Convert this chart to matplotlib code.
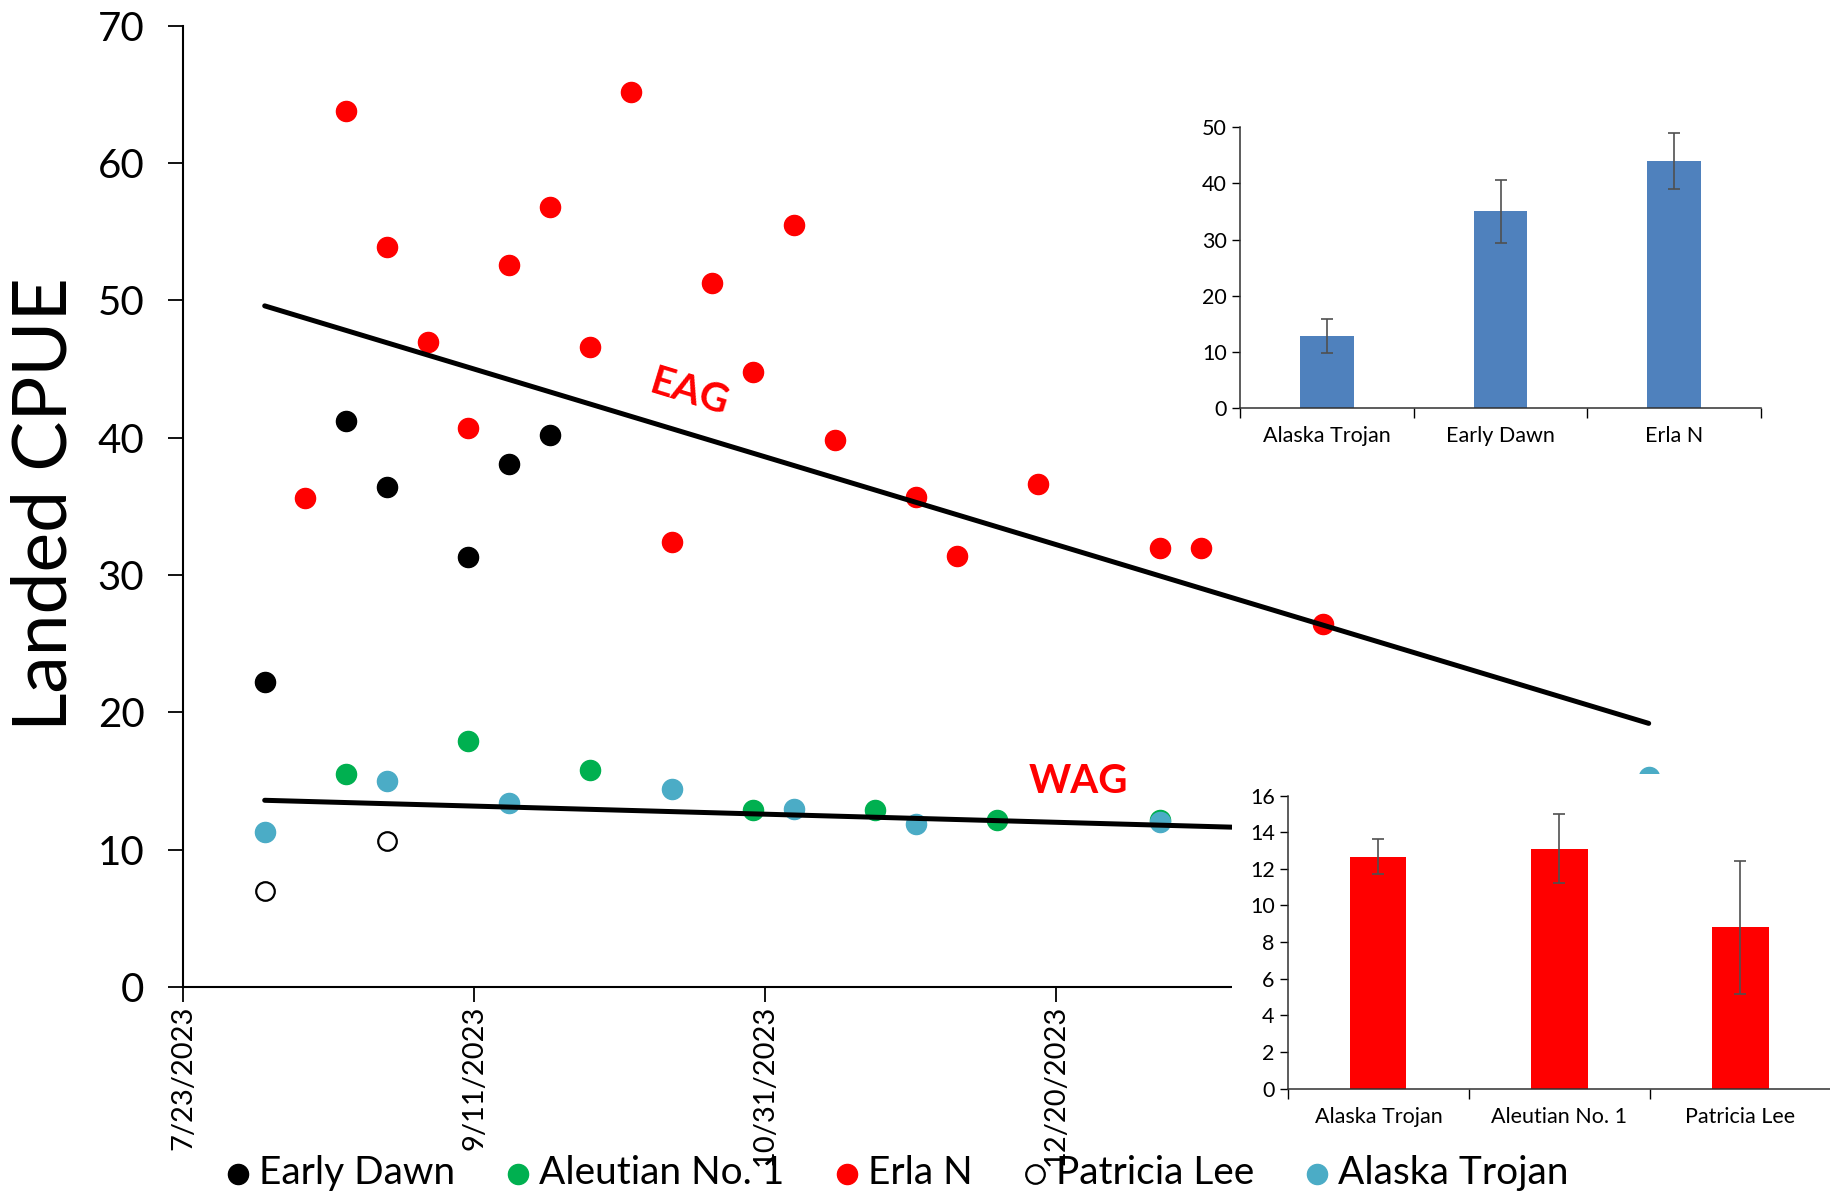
import matplotlib
matplotlib.use('Agg')
import matplotlib.pyplot as plt
import numpy as np
import pandas as pd
from matplotlib.patches import Rectangle

plt.rcParams['font.family'] = ['Lato', 'DejaVu Sans']

# scatter data
ed_dates = ['2023-08-06', '2023-08-20', '2023-08-27', '2023-09-10', '2023-09-17', '2023-09-24']
ed_cpue = [22.2, 41.2, 36.4, 31.3, 38.1, 40.2]

erla_dates = ['2023-08-13', '2023-08-20', '2023-08-27', '2023-09-03', '2023-09-10', '2023-09-17',
              '2023-09-24', '2023-10-01', '2023-10-08', '2023-10-15', '2023-10-22', '2023-10-29',
              '2023-11-05', '2023-11-12', '2023-11-26', '2023-12-03', '2023-12-17', '2024-01-07',
              '2024-01-14', '2024-02-04']
erla_cpue = [35.6, 63.8, 53.9, 47.0, 40.7, 52.6, 56.8, 46.6, 65.2, 32.4, 51.3, 44.8,
             55.5, 39.8, 35.7, 31.4, 36.6, 32.0, 32.0, 26.4]

aleut_dates = ['2023-08-20', '2023-09-10', '2023-10-01', '2023-10-29', '2023-11-19', '2023-12-10', '2024-01-07']
aleut_cpue = [15.5, 17.9, 15.8, 12.9, 12.9, 12.2, 12.2]

pl_dates = ['2023-08-06', '2023-08-27']
pl_cpue = [7.0, 10.6]

at_dates = ['2023-08-06', '2023-08-27', '2023-09-17', '2023-10-15', '2023-11-05', '2023-11-26',
            '2024-01-07', '2024-03-31']
at_cpue = [11.3, 15.0, 13.4, 14.4, 13.0, 11.9, 12.0, 15.3]

# trend lines (end points)
eag_dates = ['2023-08-06', '2024-03-31']
eag_vals = [49.6, 19.2]
wag_dates = ['2023-08-06', '2024-03-31']
wag_vals = [13.6, 10.8]

xtick_dates = ['2023-07-23', '2023-09-11', '2023-10-31', '2023-12-20', '2024-02-08', '2024-03-29']
xtick_labels = ['7/23/2023', '9/11/2023', '10/31/2023', '12/20/2023', '2/8/2024', '3/29/2024']

# inset bar charts
eag_boats = ['Alaska Trojan', 'Early Dawn', 'Erla N']
eag_means = [12.8, 35.0, 44.0]
eag_err = [2.95, 5.65, 5.0]

wag_boats = ['Alaska Trojan', 'Aleutian No. 1', 'Patricia Lee']
wag_means = [12.65, 13.1, 8.8]
wag_err = [0.95, 1.9, 3.65]

d = pd.to_datetime

fig = plt.figure(figsize=(18.31, 11.95), dpi=100)
ax = fig.add_axes([0.1001, 0.174, 0.8575, 0.8045])

ms = 210
ax.scatter(d(ed_dates), ed_cpue, s=ms, color='black', label='Early Dawn', zorder=3)
ax.scatter(d(aleut_dates), aleut_cpue, s=ms, color='#00B050', label='Aleutian No. 1', zorder=3)
ax.scatter(d(erla_dates), erla_cpue, s=ms, color='#FF0000', label='Erla N', zorder=3)
ax.scatter(d(pl_dates), pl_cpue, s=ms * 0.85, facecolor='white', edgecolor='black', linewidth=1.6,
           label='Patricia Lee', zorder=3)
ax.scatter(d(at_dates), at_cpue, s=ms, color='#4BACC6', label='Alaska Trojan', zorder=3)

ax.plot(d(eag_dates), eag_vals, color='black', lw=3.6, solid_capstyle='round', zorder=4)
ax.plot(d(wag_dates), wag_vals, color='black', lw=3.6, solid_capstyle='round', zorder=4)

ax.text(d('2023-10-18'), 43.3, 'EAG', color='#FF0000', fontsize=29, fontweight='bold',
        rotation=-17, ha='center', va='center')
ax.text(d('2023-12-24'), 15.0, 'WAG', color='#FF0000', fontsize=29, fontweight='bold',
        ha='center', va='center')

ax.set_xlim(d('2023-07-23'), d('2023-07-23') + pd.Timedelta(days=270))
ax.set_ylim(0, 70)
ax.set_yticks(np.arange(0, 71, 10))
ax.set_xticks(d(xtick_dates))
ax.set_xticklabels(xtick_labels, rotation=90, fontsize=21)
ax.tick_params(axis='y', labelsize=29, length=11, width=1.3, pad=17)
ax.tick_params(axis='x', length=11, width=1.3, pad=2)
for s in ['top', 'right']:
    ax.spines[s].set_visible(False)
for s in ['left', 'bottom']:
    ax.spines[s].set_linewidth(1.5)

fig.text(0.0245, 0.578, 'Landed CPUE', rotation=90, fontsize=54, ha='center', va='center')

# white background of the lower inset covering the main plot
fig.patches.append(Rectangle((0.6728, 0.0), 0.33, 0.352, transform=fig.transFigure,
                             facecolor='white', edgecolor='none', zorder=1))


def bar_inset(rect, names, means, errs, color, ymax, ystep):
    bx = fig.add_axes(rect)
    bx.set_zorder(2)
    x = np.arange(len(names))
    bx.bar(x, means, width=0.31, color=color, zorder=2)
    bx.errorbar(x, means, yerr=errs, fmt='none', ecolor='#505050', elinewidth=1.2,
                capsize=4, capthick=1.2, zorder=3)
    bx.set_xlim(-0.5, len(names) - 0.5)
    bx.set_ylim(0, ymax)
    bx.set_yticks(np.arange(0, ymax + 1, ystep))
    bx.set_xticks(np.arange(-0.5, len(names), 1.0))
    bx.set_xticklabels([])
    bx.set_xticks(x, minor=True)
    bx.set_xticklabels(names, minor=True, fontsize=15.5)
    bx.tick_params(axis='x', which='minor', length=0, pad=13)
    bx.tick_params(axis='x', which='major', length=7, width=1)
    bx.tick_params(axis='y', labelsize=15.5, length=6, width=1)
    for s in ['top', 'right']:
        bx.spines[s].set_visible(False)
    for s in ['left', 'bottom']:
        bx.spines[s].set_linewidth(1.1)
        bx.spines[s].set_color('#303030')
    return bx


bar_inset([0.6773, 0.6588, 0.2844, 0.2346], eag_boats, eag_means, eag_err, '#4F81BD', 50, 10)
bar_inset([0.7034, 0.0890, 0.2966, 0.2453], wag_boats, wag_means, wag_err, '#FF0000', 16, 2)

handles, labels = ax.get_legend_handles_labels()
fig.legend(handles, labels, loc='lower center', bbox_to_anchor=(0.488, -0.01), ncol=5,
           frameon=False, fontsize=28, handletextpad=0.05, columnspacing=1.1,
           handlelength=1.0, borderaxespad=0.0)

fig.savefig('out.png', dpi=100)
